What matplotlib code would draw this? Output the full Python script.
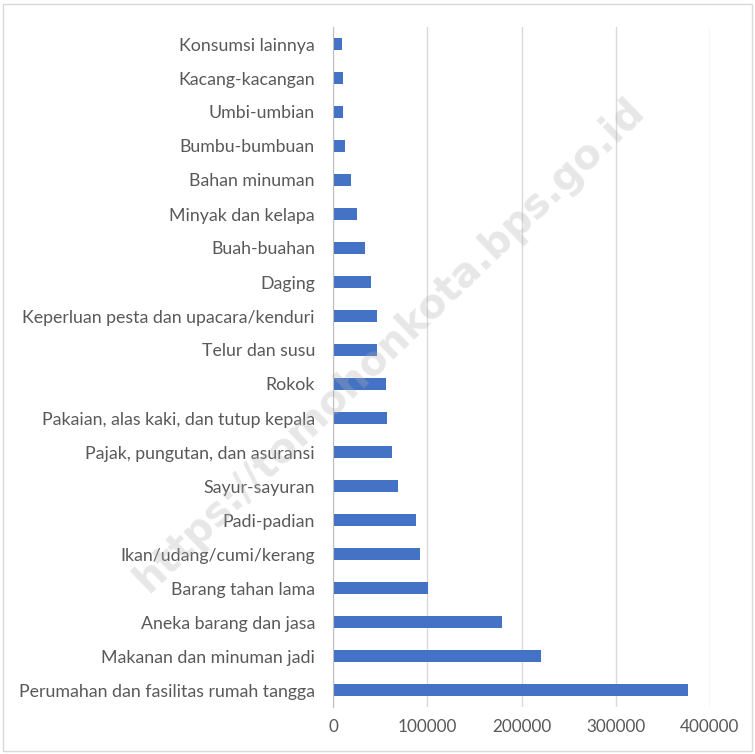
import matplotlib.pyplot as plt
from matplotlib.patches import Rectangle

# data (bottom to top as drawn)
categories = [
    "Perumahan dan fasilitas rumah tangga",
    "Makanan dan minuman jadi",
    "Aneka barang dan jasa",
    "Barang tahan lama",
    "Ikan/udang/cumi/kerang",
    "Padi-padian",
    "Sayur-sayuran",
    "Pajak, pungutan, dan asuransi",
    "Pakaian, alas kaki, dan tutup kepala",
    "Rokok",
    "Telur dan susu",
    "Keperluan pesta dan upacara/kenduri",
    "Daging",
    "Buah-buahan",
    "Minyak dan kelapa",
    "Bahan minuman",
    "Bumbu-bumbuan",
    "Umbi-umbian",
    "Kacang-kacangan",
    "Konsumsi lainnya",
]
values = [377000, 221000, 178800, 100500, 92000, 88500, 68600, 63000, 57700,
          56300, 46300, 46300, 40000, 34000, 25100, 19100, 12400, 10600,
          10600, 9900]
xticks = [0, 100000, 200000, 300000, 400000]

plt.rcParams['font.family'] = ['Lato', 'DejaVu Sans']

fig = plt.figure(figsize=(7.55, 7.54), dpi=100)
ax = fig.add_axes([333 / 755, 1 - 707 / 754, (710 - 333) / 755, 680 / 754])

ax.barh(range(len(categories)), values, height=0.36, color='#4472C4', zorder=3)
ax.set_ylim(-0.5, len(categories) - 0.5)
ax.set_xlim(0, 400000)
ax.set_yticks(range(len(categories)))
ax.set_yticklabels(categories)
ax.set_xticks(xticks)
ax.set_xticklabels([str(t) for t in xticks])
ax.tick_params(axis='y', length=0, labelsize=12.8, colors='#595959', pad=13)
ax.tick_params(axis='x', length=0, labelsize=12.3, colors='#595959', pad=9)

ax.grid(axis='x', color='#D9D9D9', linewidth=1, zorder=0)
for s in ['top', 'right', 'bottom']:
    ax.spines[s].set_visible(False)
ax.spines['left'].set_color('#BFBFBF')
ax.spines['left'].set_zorder(4)

# outer frame
fig.patches.append(Rectangle((3 / 755, 3 / 754), 749 / 755, 747 / 754,
                             transform=fig.transFigure, fill=False,
                             edgecolor='#D9D9D9', linewidth=1))

# watermark
fig.text(390 / 755, 1 - 345 / 754, "https://tomohonkota.bps.go.id",
         rotation=44, ha='center', va='center', fontsize=29,
         fontweight='bold', family=['DejaVu Sans'], color='#b0b0b0',
         alpha=0.3, zorder=10)

fig.savefig('out.png', dpi=100)
